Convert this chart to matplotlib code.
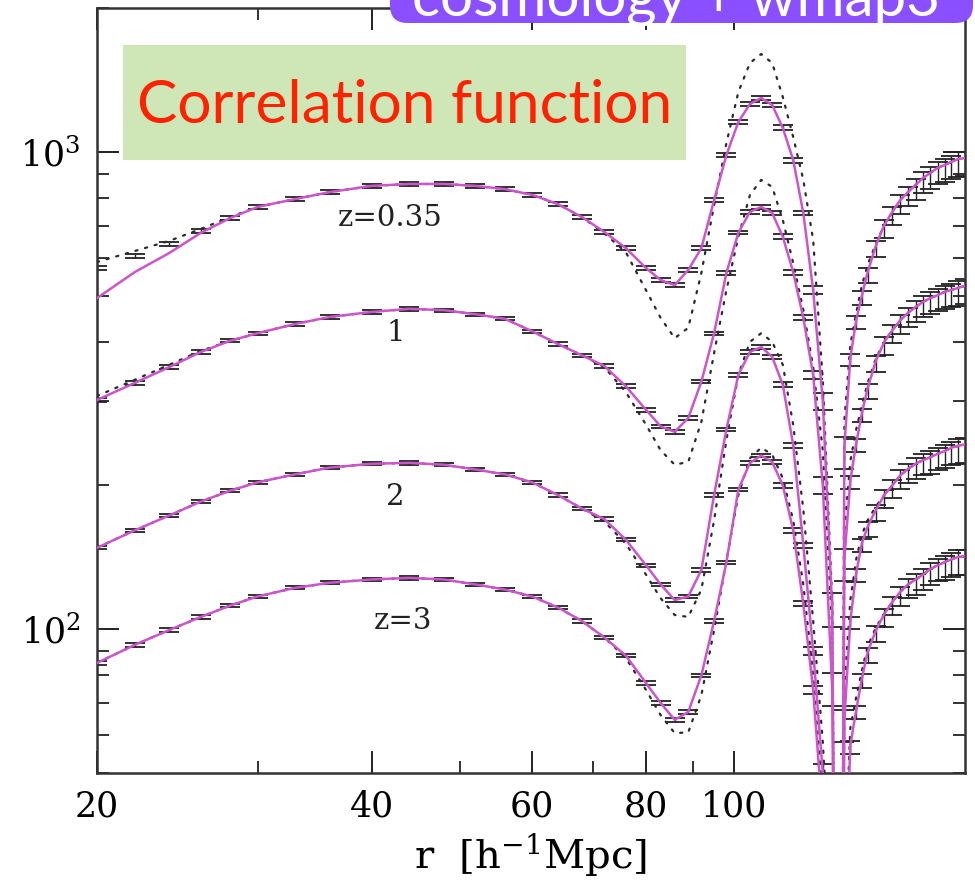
import numpy as np
import matplotlib
matplotlib.use("Agg")
import matplotlib.pyplot as plt
from matplotlib.ticker import FixedLocator, NullFormatter, LogLocator, LogFormatterMathtext, FixedFormatter
from matplotlib.patches import FancyBboxPatch, Rectangle

plt.rcParams['font.family'] = ['DejaVu Serif']
plt.rcParams['mathtext.fontset'] = 'dejavuserif'

# ---------------- data ----------------
r = np.array([20, 22, 24, 26, 28, 30, 33, 36, 40, 44, 48, 52, 56, 60, 64, 68, 72, 76, 80, 83,
              86, 89, 92, 95, 98, 101, 104, 107, 110, 113, 116, 119, 122, 125, 128, 130.5,
              132, 134, 136, 138, 140, 143, 146, 149, 152, 155, 158, 161, 164, 167, 170, 173, 176, 179])

# model (solid magenta)
model_z035 = np.array([494, 560, 614, 677, 727, 767, 797, 824, 849, 857, 857, 849, 836, 813, 778, 731, 680, 629, 571, 539,
                       526, 566, 629, 793, 986, 1156, 1261, 1298, 1255, 1123, 962, 745, 513, 300, 110, 1,
                       241, 370, 444, 501, 560, 638, 703, 749, 793, 824, 853, 882, 904, 926, 939, 953, 967, 971])
model_z1 = np.array([302, 328, 354, 381, 402, 417, 436, 451, 462, 469, 466, 457, 447, 421, 396, 375, 356, 323, 288, 266,
                     259, 277, 330, 417, 558, 677, 749, 767, 745, 664, 560, 449, 341, 200, 75, 1,
                     140, 205, 245, 284, 320, 366, 400, 423, 444, 460, 473, 485, 494, 501, 509, 514, 519, 524])
model_z2 = np.array([148, 161, 173, 185, 195, 203, 211, 218, 222, 223, 221, 216, 211, 203, 191, 179, 170, 154, 136, 124,
                     115, 117, 133, 191, 262, 341, 381, 390, 372, 325, 243, 150, 90, 50, 22, 1,
                     64.5, 104, 131, 151.5, 164, 178, 191, 200, 210, 216.5, 222, 226, 229, 233, 236, 240, 242, 244])
model_z3 = np.array([84.9, 92.6, 99.5, 106, 112, 117, 122, 125, 127, 128, 127, 124, 121, 117, 111, 104, 96, 88, 77, 70,
                     64.5, 67, 80, 104, 138, 196, 223, 231, 224, 200, 161, 113, 74.5, 40, 15, 1,
                     25, 57, 67.6, 78.9, 89.5, 99.5, 107.5, 114, 119.6, 124, 127, 130, 133.6, 136, 138, 140, 141.6, 142])

# linear theory (dotted black)
lin_z035 = np.array([588, 620, 651, 690, 731, 767, 797, 824, 849, 857, 857, 849, 836, 813, 778, 731, 675, 617, 513, 449,
                     407, 428, 558, 774, 1044, 1336, 1537, 1605, 1537, 1304, 1075, 874, 654, 333, 115, 1,
                     274, 394, 460, 526, 580, 644, 703, 749, 793, 824, 853, 882, 904, 926, 939, 953, 967, 971])
lin_z1 = np.array([308, 333, 358, 383, 402, 417, 436, 451, 462, 469, 466, 457, 447, 421, 396, 375, 354, 314, 268, 237,
                   221, 224, 272, 379, 513, 664, 813, 874, 845, 720, 585, 467, 354, 237, 100, 1,
                   160, 225, 262, 295, 328, 370, 400, 423, 444, 460, 473, 485, 494, 501, 509, 514, 519, 524])
lin_z2 = np.array([148, 161, 173, 185, 195, 203, 211, 218, 222, 223, 221, 216, 211, 203, 191, 179, 168, 151, 130, 116,
                   107, 106, 121, 169, 249, 341, 400, 417, 400, 358, 268, 178, 104, 58, 26, 1,
                   75, 115, 140, 158, 169, 181, 191, 200, 210, 216.5, 222, 226, 229, 233, 236, 240, 242, 244])
lin_z3 = np.array([84.9, 92.6, 99.5, 106, 112, 117, 122, 125, 127, 128, 127, 124, 121, 117, 111, 104, 96, 87, 74.5, 66,
                   60.5, 60.7, 72.7, 99.5, 139, 191, 228, 240, 232, 207, 169, 124, 80, 44, 17, 1,
                   30, 62, 72, 82, 92, 101, 107.5, 114, 119.6, 124, 127, 130, 133.6, 136, 138, 140, 141.6, 142])

# simulation measurements (error bars)
data_z035 = np.array([571, 605, 641, 683, 727, 767, 797, 824, 849, 857, 857, 849, 836, 813, 778, 731, 680, 629, 571, 539,
                      526, 566, 629, 793, 986, 1156, 1261, 1298, 1255, 1123, 962, 745, 513, 300, 110, 1,
                      241, 370, 444, 501, 560, 638, 703, 749, 793, 824, 853, 882, 904, 926, 939, 953, 967, 971])
data_z1 = model_z1
data_z2 = model_z2
data_z3 = model_z3

err_lo = np.array([0.008] * 29 + [0.012, 0.012, 0.012, 0.02, 0.04, 0.08, 0.0,
                                   0.1, 0.04, 0.04, 0.045, 0.05, 0.055, 0.06, 0.06, 0.065, 0.065, 0.07, 0.07,
                                   0.075, 0.075, 0.08, 0.08, 0.085, 0.085])
err_hi = np.array([0.008] * 29 + [0.012, 0.012, 0.012, 0.02, 0.04, 0.08, 0.0,
                                   0.05, 0.02, 0.02, 0.02, 0.02, 0.022, 0.024, 0.024, 0.026, 0.026, 0.028, 0.028,
                                   0.03, 0.03, 0.03, 0.03, 0.032, 0.032])

labels = ["z=0.35", "1", "2", "z=3"]
label_pos = [(41.9, 727), (42.5, 417), (42.5, 189), (43.3, 104)]

x_major = [20, 40, 60, 80, 100]
x_minor = [30, 50, 70, 90]

# ---------------- figure ----------------
W, H = 975, 888
fig = plt.figure(figsize=(W / 100, H / 100), dpi=100)
left_px, right_px, top_px, bot_px = 97, 965, 8.4, 772.6
ax = fig.add_axes([left_px / W, 1 - bot_px / H, (right_px - left_px) / W, (bot_px - top_px) / H])
ax.set_xscale('log')
ax.set_yscale('log')
ax.set_xlim(20, 179)
ax.set_ylim(50, 2000)

magenta = '#CC55CC'
for d in [data_z035, data_z1, data_z2, data_z3]:
    ax.errorbar(r, d, yerr=[d * err_lo, d * err_hi], fmt='none', ecolor='#222222',
                elinewidth=1.0, capsize=7.5, capthick=1.3, zorder=2)
for l in [lin_z035, lin_z1, lin_z2, lin_z3]:
    ax.plot(r, l, color='#2a2a2a', lw=1.6, ls=(0, (1, 3.5)), dash_capstyle='round', zorder=3)
for m in [model_z035, model_z1, model_z2, model_z3]:
    ax.plot(r, m, color=magenta, lw=1.8, zorder=4)

for t, (xp, yp) in zip(labels, label_pos):
    ax.text(xp, yp, t, ha='center', va='center', fontsize=21, color='#222222', zorder=5)

ax.xaxis.set_major_locator(FixedLocator(x_major))
ax.xaxis.set_minor_locator(FixedLocator(x_minor))
ax.xaxis.set_major_formatter(FixedFormatter([str(v) for v in x_major]))
ax.xaxis.set_minor_formatter(NullFormatter())
ax.yaxis.set_major_locator(LogLocator(base=10, numticks=10))
ax.yaxis.set_minor_locator(LogLocator(base=10, subs=np.arange(2, 10), numticks=10))
ax.yaxis.set_major_formatter(LogFormatterMathtext())
ax.yaxis.set_minor_formatter(NullFormatter())

ax.tick_params(which='both', direction='in', top=True, right=True, color='#222222')
ax.tick_params(which='major', length=16, width=1.4, labelsize=25, pad=12)
ax.tick_params(which='minor', length=8.5, width=1.3)
for s in ax.spines.values():
    s.set_linewidth(1.8)
    s.set_color('#333333')

ax.set_xlabel(r'r  [h$^{-1}$Mpc]', fontsize=29, labelpad=6)

# green title box
fig.patches.append(Rectangle((123 / W, 1 - 160 / H), 563 / W, 115 / H, transform=fig.transFigure,
                             facecolor='#CFE6B6', edgecolor='none', zorder=10))
fig.text(405 / W, 1 - 123 / H, 'Correlation function', ha='center', va='baseline',
         fontsize=43.5, color='#FF2200', family=['Lato', 'DejaVu Sans'], zorder=11)

# purple banner at top right (cut by the figure edge, as in the slide)
fig.patches.append(FancyBboxPatch((390 / W, 1 - 23 / H), 583 / W, 60 / H,
                                  boxstyle='round,pad=0,rounding_size=0.018', mutation_aspect=W / H,
                                  transform=fig.transFigure, facecolor='#8A50FF', edgecolor='none', zorder=10))
fig.text(676 / W, 1 - 15 / H, 'cosmology + wmap3', ha='center', va='baseline',
         fontsize=42, color='white', family=['Lato', 'DejaVu Sans'], zorder=11)

fig.savefig('out.png', dpi=100)
